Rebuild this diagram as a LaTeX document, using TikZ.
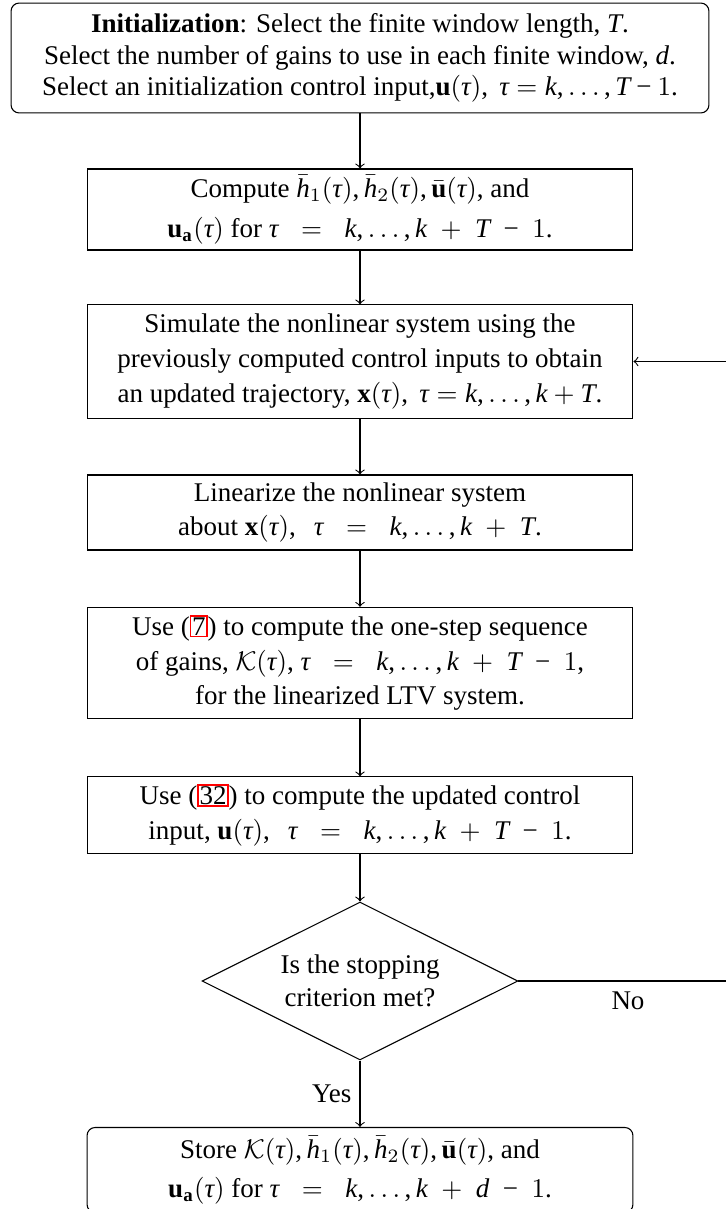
\documentclass[tikz,border=0pt]{standalone}
\usepackage{fontspec}
\setmainfont{Liberation Serif}
\usetikzlibrary{shapes.geometric}

% Times-like math: italic letters and operators taken from the text font
\DeclareSymbolFont{tuit}{TU}{\rmdefault}{m}{it}
\Umathcode`k=7 \symtuit `k
\Umathcode`d=7 \symtuit `d
\Umathcode`h=7 \symtuit `h
\Umathcode`T=7 \symtuit `T
\Umathchardef\tau=0 \symtuit "03C4
\Umathcode`(=4 \symoperators `(
\Umathcode`)=5 \symoperators `)
\Umathcode`==3 \symoperators `=
\Umathcode`+=2 \symoperators `+
\Umathcode`-=2 \symoperators "2212
\Umathcode`,=6 \symoperators `,

% equation reference with a red link frame
\newcommand{\eqlink}[1]{{\setlength{\fboxsep}{0.3pt}\setlength{\fboxrule}{0.5pt}\color{red}\fbox{\color{black}#1}}}

\tikzset{
  procbox/.style={draw, rectangle, align=center, inner sep=0pt,
    minimum width=202.2pt, font={\fontsize{10}{12.9}\selectfont}},
  termbox/.style={draw, rectangle, rounded corners=3pt, align=center, inner sep=0pt},
  decision/.style={draw, diamond, align=center, inner sep=0pt, shape aspect=2,
    minimum width=117pt, minimum height=58.5pt},
  flow/.style={->},
  lbl/.style={inner sep=1pt}
}

\begin{document}
\begin{tikzpicture}[x=0.3704pt, y=-0.3704pt]
\useasboundingbox (0,0) rectangle (726,1209);

\node[termbox, minimum width=258.5pt, minimum height=40.7pt,
      font={\fontsize{10}{11.8}\selectfont}] (init) at (360,58)
  {\textbf{Initialization}: Select the finite window length, $T$.\\
   Select the number of gains to use in each finite window, $d$.\\
   Select an initialization control input,$\mathbf{u}(\tau),\ \tau = k,\ldots,T-1$.};

\node[procbox, minimum height=30pt] (comp) at (360,209.5)
  {Compute $\bar{h}_1(\tau), \bar{h}_2(\tau), \bar{\mathbf{u}}(\tau)$, and\\[2pt]
   $\mathbf{u}_{\mathbf{a}}(\tau)$ for $\tau\;\;=\;\;k,\ldots,k\;+\;T\;-\;1$.};

\node[procbox, minimum height=41.9pt] (sim) at (360,361.5)
  {Simulate the nonlinear system using the\\
   previously computed control inputs to obtain\\
   an updated trajectory, $\mathbf{x}(\tau),\ \tau = k,\ldots,k+T$.};

\node[procbox, minimum height=27.8pt] (lin) at (360,512.5)
  {Linearize the nonlinear system\\
   about $\mathbf{x}(\tau),\ \ \tau\;\;=\;\;k,\ldots,k\;+\;T$.};

\node[procbox, minimum height=41.2pt] (gain) at (360,663)
  {Use (\eqlink{7}) to compute the one-step sequence\\
   of gains, $\mathcal{K}(\tau)$, $\tau\;\;=\;\;k,\ldots,k\;+\;T\;-\;1$,\\
   for the linearized LTV system.};

\node[procbox, minimum height=28.2pt] (upd) at (360,815)
  {Use (\eqlink{32}) to compute the updated control\\
   input, $\mathbf{u}(\tau),\ \ \tau\;\;=\;\;k,\ldots,k\;+\;T\;-\;1$.};

\node[decision] (stop) at (360,981) {Is the stopping\\ criterion met?};

\node[termbox, minimum width=202.2pt, minimum height=31.5pt,
      font={\fontsize{10}{12.9}\selectfont}] (store) at (360,1170)
  {Store $\mathcal{K}(\tau), \bar{h}_1(\tau), \bar{h}_2(\tau), \bar{\mathbf{u}}(\tau)$, and\\[1.5pt]
   $\mathbf{u}_{\mathbf{a}}(\tau)$ for $\tau\;\;=\;\;k,\ldots,k\;+\;d\;-\;1$.};

% main sequence
\draw[flow] (init) -- (comp);
\draw[flow] (comp) -- (sim);
\draw[flow] (sim) -- (lin);
\draw[flow] (lin) -- (gain);
\draw[flow] (gain) -- (upd);
\draw[flow] (upd) -- (stop);
\draw[flow] (stop) -- node[lbl, left, inner sep=3pt] {Yes} (store);

% feedback loop back to the simulation step
\coordinate (loop) at (740,981);
\draw[flow] (stop.east) -- (loop) |- (sim.east);
\node[lbl] (no) at (628,1001) {No};
\end{tikzpicture}
\end{document}
